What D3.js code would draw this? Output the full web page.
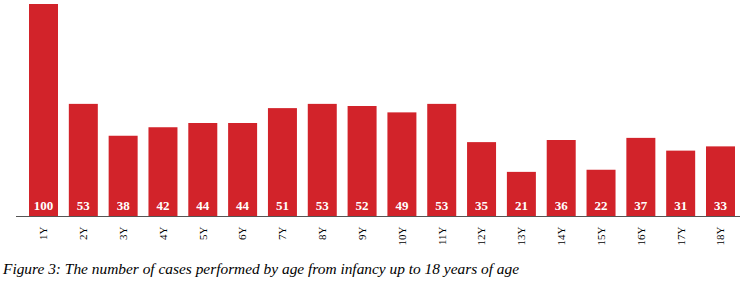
<!DOCTYPE html>
<html><head><meta charset="utf-8">
<script src="https://cdn.jsdelivr.net/npm/d3@7"></script>
<style>body{margin:0;background:#fff}svg{display:block}text{font-family:'Liberation Serif','Times New Roman',serif}</style>
</head><body>
<script>
const categories = ["1Y","2Y","3Y","4Y","5Y","6Y","7Y","8Y","9Y","10Y","11Y","12Y","13Y","14Y","15Y","16Y","17Y","18Y"];
const values = [100,53,38,42,44,44,51,53,52,49,53,35,21,36,22,37,31,33];
const caption = "Figure 3: The number of cases performed by age from infancy up to 18 years of age";

const W = 747, H = 286;
const serif = "'Liberation Serif', 'Times New Roman', serif";
const svg = d3.select("body").append("svg").attr("width", W).attr("height", H);
const x = d3.scaleBand().domain(categories).range([29, 735]).paddingInner(0.272).paddingOuter(0);
const y = d3.scaleLinear().domain([0, 100]).range([216.5, 4]);

svg.append("g").selectAll("rect").data(values).join("rect")
  .attr("x", (d,i) => x(categories[i]))
  .attr("y", d => y(d))
  .attr("width", x.bandwidth())
  .attr("height", d => y(0) - y(d))
  .attr("fill", "#d2232a");

svg.append("line").attr("x1", 16).attr("x2", 740).attr("y1", 216.5).attr("y2", 216.5)
  .attr("stroke", "#555").attr("stroke-width", 1);

svg.append("g").selectAll("text").data(values).join("text")
  .attr("x", (d,i) => x(categories[i]) + x.bandwidth()/2)
  .attr("y", 209.5)
  .attr("text-anchor", "middle")
  .style("font-family", serif)
  .style("font-weight", "bold").style("font-size", "13px")
  .attr("fill", "#fff")
  .text(d => d);

const axis = d3.axisBottom(x).tickSize(0).tickPadding(0);
const ag = svg.append("g").attr("transform", "translate(0,216.5)").call(axis);
ag.attr("font-family", null).attr("font-size", null);
ag.select(".domain").remove();
ag.selectAll("text")
  .style("font-family", serif)
  .style("font-size", "11px").attr("fill", "#000")
  .attr("text-anchor", "end")
  .attr("transform", "rotate(-90)")
  .attr("x", -10).attr("y", 0).attr("dy", "0.35em");

svg.append("text").attr("x", 3).attr("y", 274)
  .style("font-family", serif)
  .style("font-style", "italic").style("font-size", "15.4px").attr("fill", "#000")
  .text(caption);
</script>
</body></html>
